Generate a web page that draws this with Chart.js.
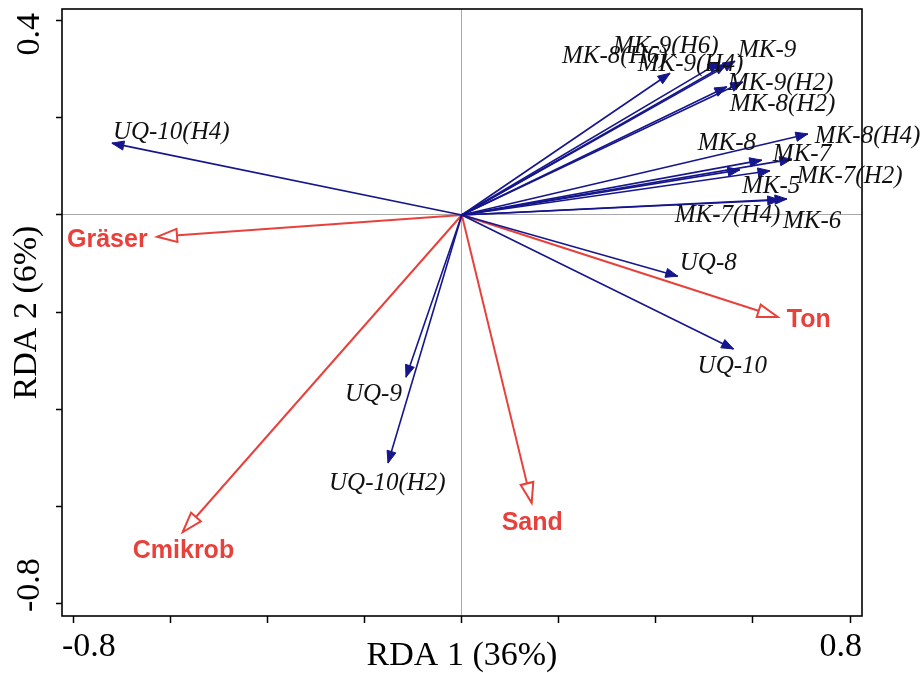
<!DOCTYPE html>
<html>
<head>
<meta charset="utf-8">
<script src="https://cdn.jsdelivr.net/npm/chart.js@4/dist/chart.umd.min.js"></script>
<style>
html,body{margin:0;padding:0;background:#fff;}
#wrap{width:923px;height:673px;}
</style>
</head>
<body>
<div id="wrap"><canvas id="c" width="923" height="673"></canvas></div>
<script>
// ---- data ----
const sampleNames = ['UQ-10(H4)','MK-8(H6)','MK-9(H6)','MK-9(H4)','MK-9','MK-9(H2)','MK-8(H2)','MK-8(H4)','MK-8','MK-7','MK-7(H2)','MK-5','MK-7(H4)','MK-6','UQ-8','UQ-10','UQ-9','UQ-10(H2)'];
const sampleRDA1 = [-0.721, 0.429, 0.532, 0.546, 0.563, 0.579, 0.546, 0.713, 0.618, 0.680, 0.635, 0.573, 0.655, 0.670, 0.445, 0.560, -0.115, -0.152];
const sampleRDA2 = [ 0.148, 0.292, 0.315, 0.311, 0.317, 0.274, 0.264, 0.167, 0.113, 0.115, 0.091, 0.093, 0.031, 0.033, -0.126, -0.276, -0.334, -0.511];
const envNames = ['Gräser','Cmikrob','Sand','Ton'];
const envRDA1 = [-0.628, -0.575, 0.144, 0.651];
const envRDA2 = [-0.045, -0.653, -0.593, -0.210];
const xRange = [-0.8238, 0.8246];
const yRange = [-0.8260, 0.4243];
const xTickValues = [-0.8, -0.6, -0.4, -0.2, 0, 0.2, 0.4, 0.6, 0.8];
const yTickValues = [0.4, 0.2, 0, -0.2, -0.4, -0.6, -0.8];
const xTickLabels = ['-0.8', '0.8'];
const yTickLabels = ['0.4', '-0.8'];
const xTitle = 'RDA 1 (36%)';
const yTitle = 'RDA 2 (6%)';

// ---- styling ----
const NAVY = '#16168c';
const RED = '#e8413c';
const labelPlacement = {
  'UQ-10(H4)':[1,-4], 'MK-8(H6)':[-108,-10], 'MK-9(H6)':[-107,-9], 'MK-9(H4)':[-89,7],
  'MK-9':[3,-4], 'MK-9(H2)':[-15,8], 'MK-8(H2)':[3,24], 'MK-8(H4)':[7,9],
  'MK-8':[-64,-10], 'MK-7':[-19,2], 'MK-7(H2)':[27,12], 'MK-5':[2,23],
  'MK-7(H4)':[-105,22], 'MK-6':[-4,29], 'UQ-8':[2,-6], 'UQ-10':[-36,24],
  'UQ-9':[-61,24], 'UQ-10(H2)':[-59,27],
  'Gräser':[-90,10], 'Cmikrob':[-50,26], 'Sand':[-30,27], 'Ton':[9,10]
};

const datasets = [];
sampleNames.forEach((n, i) => {
  datasets.push({label: n, kind: 'sample', showLine: true, borderColor: NAVY, borderWidth: 1.6,
    pointRadius: 0, data: [{x: 0, y: 0}, {x: sampleRDA1[i], y: sampleRDA2[i]}]});
});
envNames.forEach((n, i) => {
  datasets.push({label: n, kind: 'env', showLine: true, borderColor: RED, borderWidth: 2,
    pointRadius: 0, data: [{x: 0, y: 0}, {x: envRDA1[i], y: envRDA2[i]}]});
});

const arrowPlugin = {
  id: 'arrowsAndFrame',
  afterDatasetsDraw(chart) {
    const ctx = chart.ctx;
    const ca = chart.chartArea;
    ctx.save();
    chart.data.datasets.forEach((ds, i) => {
      const meta = chart.getDatasetMeta(i);
      const p0 = meta.data[0], p1 = meta.data[1];
      const ang = Math.atan2(p1.y - p0.y, p1.x - p0.x);
      const isEnv = ds.kind === 'env';
      const L = isEnv ? 20 : 12, W = isEnv ? 6.5 : 4.6;
      const bx = p1.x - L * Math.cos(ang), by = p1.y - L * Math.sin(ang);
      const nx = -Math.sin(ang) * W, ny = Math.cos(ang) * W;
      ctx.beginPath();
      ctx.moveTo(p1.x, p1.y);
      ctx.lineTo(bx + nx, by + ny);
      ctx.lineTo(bx - nx, by - ny);
      ctx.closePath();
      if (isEnv) {
        ctx.fillStyle = '#fff'; ctx.fill();
        ctx.strokeStyle = RED; ctx.lineWidth = 2; ctx.lineJoin = 'miter'; ctx.stroke();
      } else {
        ctx.fillStyle = NAVY; ctx.fill();
        ctx.strokeStyle = NAVY; ctx.lineWidth = 1; ctx.stroke();
      }
    });
    // labels
    chart.data.datasets.forEach((ds, i) => {
      const meta = chart.getDatasetMeta(i);
      const p1 = meta.data[1];
      const off = labelPlacement[ds.label] || [4, 4];
      const isEnv = ds.kind === 'env';
      ctx.font = isEnv ? 'bold 25px "Liberation Sans", Arial, sans-serif' : 'italic 25px "Liberation Serif", "Times New Roman", serif';
      ctx.fillStyle = isEnv ? RED : '#111';
      ctx.textAlign = 'left';
      ctx.textBaseline = 'alphabetic';
      ctx.fillText(ds.label, p1.x + off[0], p1.y + off[1]);
    });
    // frame
    ctx.strokeStyle = '#000';
    ctx.lineWidth = 1.6;
    ctx.strokeRect(ca.left, ca.top, ca.right - ca.left, ca.bottom - ca.top);
    // y tick labels (rotated, aligned inward from the frame edges)
    ctx.font = '34px "Liberation Serif", "Times New Roman", serif';
    ctx.fillStyle = '#000';
    ctx.textAlign = 'center';
    ctx.textBaseline = 'middle';
    const wTop = ctx.measureText(yTickLabels[0]).width;
    const wBot = ctx.measureText(yTickLabels[1]).width;
    const xc = ca.left - 32;
    [[yTickLabels[0], ca.top + 4 + wTop / 2], [yTickLabels[1], ca.bottom - 4 - wBot / 2]].forEach(([t, yc]) => {
      ctx.save();
      ctx.translate(xc, yc);
      ctx.rotate(-Math.PI / 2);
      ctx.fillText(t, 0, 0);
      ctx.restore();
    });
    ctx.restore();
  }
};

const zeroColor = c => (c.tick && Math.abs(c.tick.value) < 1e-9) ? '#a9a9a9' : 'rgba(0,0,0,0)';

new Chart(document.getElementById('c'), {
  type: 'scatter',
  data: {datasets},
  options: {
    responsive: false,
    devicePixelRatio: 1,
    animation: false,
    layout: {padding: {top: 9, right: 61, left: 0, bottom: 0}},
    plugins: {legend: {display: false}, tooltip: {enabled: false}},
    scales: {
      x: {
        type: 'linear', position: 'bottom', min: xRange[0], max: xRange[1],
        afterBuildTicks: s => { s.ticks = [xRange[0], ...xTickValues, xRange[1]].map(v => ({value: v})); },
        afterFit: s => { s.height = 57; },
        border: {display: false},
        grid: {
          drawOnChartArea: true, color: zeroColor, lineWidth: 1,
          drawTicks: true, tickLength: 7, tickWidth: 1.5,
          tickColor: c => (c.index === 0 || c.index === xTickValues.length + 1) ? 'rgba(0,0,0,0)' : '#000'
        },
        ticks: {
          autoSkip: false, maxRotation: 0, minRotation: 0, align: 'inner', padding: 4,
          color: '#000', font: {family: '"Liberation Serif", "Times New Roman", serif', size: 34},
          callback: (v, i, t) => i === 0 ? xTickLabels[0] : (i === t.length - 1 ? xTickLabels[1] : '')
        },
        title: {display: true, text: xTitle, color: '#000', padding: {top: 0, bottom: 0},
          font: {family: '"Liberation Serif", "Times New Roman", serif', size: 34, lineHeight: 1}}
      },
      y: {
        type: 'linear', position: 'left', min: yRange[0], max: yRange[1],
        afterBuildTicks: s => { s.ticks = yTickValues.map(v => ({value: v})); },
        afterFit: s => { s.width = 62; },
        border: {display: false},
        grid: {
          drawOnChartArea: true, color: zeroColor, lineWidth: 1,
          drawTicks: true, tickLength: 6, tickWidth: 1.5, tickColor: '#000'
        },
        ticks: {display: false},
        title: {display: true, text: yTitle, color: '#000', padding: {top: 10, bottom: 0},
          font: {family: '"Liberation Serif", "Times New Roman", serif', size: 34, lineHeight: 1}}
      }
    }
  },
  plugins: [arrowPlugin]
});
</script>
</body>
</html>
